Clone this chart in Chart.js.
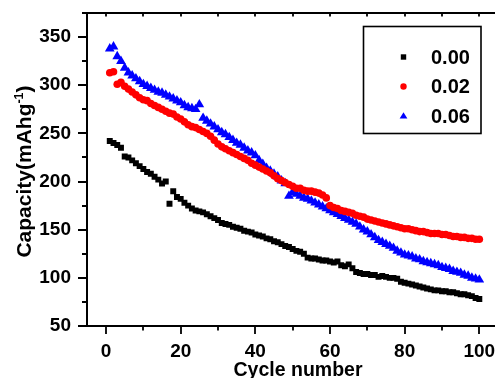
<!DOCTYPE html>
<html>
<head>
<meta charset="utf-8">
<script src="https://cdn.jsdelivr.net/npm/chart.js@4"></script>
<style>
  html, body { margin: 0; padding: 0; background: #fff; }
  canvas { display: block; }
</style>
</head>
<body>
<canvas id="capChart" width="495" height="378"></canvas>
<script>
// cycle numbers 1..100
const cycles = Array.from({ length: 100 }, (_, i) => i + 1);

const seriesLabels = ['0.00', '0.02', '0.06'];

const cap000 = [
    242, 240, 238, 235, 226, 225, 222, 219, 216, 213,
    210, 208, 205, 202, 198, 200, 177, 190, 184, 182,
    178, 175, 172, 170, 169, 168, 166, 164, 162, 160,
    157, 156, 155, 153, 152, 151, 149, 148, 147, 145,
    144, 143, 141, 140, 138, 137, 135, 133, 132, 130,
    128, 127, 125, 121, 120, 120, 119, 118, 118, 117,
    116, 117, 113, 112, 114, 110, 106, 105, 104, 104,
    103, 103, 101, 102, 101, 100, 100, 99, 96, 95,
    94, 93, 92, 91, 90, 89, 88, 87, 87, 86,
    86, 85, 85, 84, 83, 83, 82, 81, 79, 78
];

const cap002 = [
    313, 314, 301, 303, 299, 296, 293, 290, 287, 285,
    284, 281, 279, 277, 275, 273, 271, 270, 267, 265,
    262, 259, 257, 256, 254, 252, 250, 247, 243, 239,
    236, 234, 232, 230, 228, 226, 224, 222, 219, 217,
    215, 213, 211, 209, 206, 203, 201, 199, 197, 195,
    193, 193, 191, 190, 190, 189, 188, 186, 183, 175,
    173, 172, 170, 169, 168, 167, 165, 164, 163, 161,
    160, 159, 158, 157, 156, 155, 154, 153, 152, 151,
    151, 150, 149, 148, 148, 147, 146, 146, 146, 145,
    145, 144, 143, 143, 142, 142, 141, 141, 140, 140
];

const cap006 = [
    338, 340, 330, 325, 318, 313, 310, 307, 304, 301,
    299, 297, 295, 293, 292, 290, 288, 286, 284, 282,
    279, 277, 276, 275, 280, 266, 263, 260, 257, 254,
    251, 249, 246, 243, 240, 238, 235, 232, 230, 227,
    222, 218, 214, 211, 208, 205, 201, 198, 185, 189,
    187, 185, 183, 182, 180, 178, 176, 174, 172, 170,
    168, 166, 164, 162, 160, 158, 156, 153, 150, 148,
    145, 142, 139, 137, 135, 133, 131, 128, 126, 124,
    123, 122, 120, 119, 117, 116, 115, 114, 113, 111,
    110, 109, 107, 106, 105, 103, 102, 100, 99, 98
];

const xTickValues = [0, 20, 40, 60, 80, 100];
const yTickValues = [50, 100, 150, 200, 250, 300, 350];

const colors = ['#000000', '#ff0000', '#0000ff'];
const pointStyles = ['rect', 'circle', 'triangle'];
const pointSizes = [4.2, 3.8, 5.6];

function toPoints(values) {
    return values.map((v, i) => ({ x: cycles[i], y: v }));
}

const FONT = '"Liberation Sans", Arial, sans-serif';

// axes frame, ticks, titles and legend box
const framePlugin = {
    id: 'frame',
    afterDatasetsDraw(chart) {
        const ctx = chart.ctx;
        const xs = chart.scales.x;
        const ys = chart.scales.y;
        const area = chart.chartArea;
        const left = area.left, right = 495, top = area.top, bottom = area.bottom;

        ctx.save();
        ctx.strokeStyle = '#000';
        ctx.lineWidth = 2;
        ctx.beginPath();
        ctx.moveTo(left, top); ctx.lineTo(right, top);
        ctx.moveTo(left, top - 1); ctx.lineTo(left, bottom + 1);
        ctx.moveTo(left, bottom); ctx.lineTo(right, bottom);
        ctx.stroke();

        ctx.lineWidth = 1.8;
        ctx.beginPath();
        for (let v = 0; v <= 100; v += 10) {
            const px = Math.round(xs.getPixelForValue(v));
            const len = v % 20 === 0 ? 8 : 4.5;
            ctx.moveTo(px, bottom); ctx.lineTo(px, bottom + len);
            ctx.moveTo(px, top); ctx.lineTo(px, top + 3.5);
        }
        for (let v = 50; v <= 375; v += 25) {
            const py = Math.round(ys.getPixelForValue(v));
            const len = v % 50 === 0 ? 9 : 5;
            ctx.moveTo(left, py); ctx.lineTo(left - len, py);
        }
        ctx.stroke();

        // x title
        ctx.fillStyle = '#000';
        ctx.font = 'bold 19.5px ' + FONT;
        ctx.textAlign = 'center';
        ctx.textBaseline = 'alphabetic';
        ctx.fillText('Cycle number', 298, 376);

        // y title with superscript
        ctx.translate(31, 171.5);
        ctx.rotate(-Math.PI / 2);
        const mainFont = 'bold 21px ' + FONT;
        const supFont = 'bold 12.5px ' + FONT;
        ctx.font = mainFont;
        const w1 = ctx.measureText('Capacity(mAhg').width;
        const w3 = ctx.measureText(')').width;
        ctx.font = supFont;
        const w2 = ctx.measureText('-1').width;
        let sx = -(w1 + w2 + w3) / 2;
        ctx.textAlign = 'left';
        ctx.font = mainFont;
        ctx.fillText('Capacity(mAhg', sx, 0);
        sx += w1;
        ctx.font = supFont;
        ctx.fillText('-1', sx, -8.5);
        sx += w2;
        ctx.font = mainFont;
        ctx.fillText(')', sx, 0);
        ctx.restore();

        // legend
        ctx.save();
        ctx.strokeStyle = '#000';
        ctx.lineWidth = 1.6;
        ctx.strokeRect(363.5, 26.5, 117.5, 107);
        const rows = [57, 86.5, 116];
        ctx.font = 'bold 20px ' + FONT;
        ctx.textAlign = 'left';
        ctx.textBaseline = 'middle';
        chart.data.datasets.forEach((ds, i) => {
            ctx.fillStyle = ds.backgroundColor;
            const mx = 403.5, my = rows[i];
            ctx.beginPath();
            if (i === 0) {
                ctx.rect(mx - 2.7, my - 2.7, 5.4, 5.4);
            } else if (i === 1) {
                ctx.arc(mx, my, 3.2, 0, Math.PI * 2);
            } else {
                ctx.moveTo(mx, my - 3.8);
                ctx.lineTo(mx + 3.9, my + 2.6);
                ctx.lineTo(mx - 3.9, my + 2.6);
                ctx.closePath();
            }
            ctx.fill();
            ctx.fillStyle = '#000';
            ctx.fillText(ds.label, 431, my + 1);
        });
        ctx.restore();
    }
};

const ctx = document.getElementById('capChart').getContext('2d');
const chart = new Chart(ctx, {
    type: 'scatter',
    data: {
        datasets: [cap000, cap002, cap006].map((vals, i) => ({
            label: seriesLabels[i],
            data: toPoints(vals),
            backgroundColor: colors[i],
            borderColor: colors[i],
            pointStyle: pointStyles[i],
            pointRadius: pointSizes[i],
            pointBorderWidth: 0,
            showLine: false
        }))
    },
    options: {
        responsive: false,
        animation: false,
        layout: { padding: { top: 13, right: 0, left: 0, bottom: 0 } },
        plugins: {
            legend: { display: false },
            tooltip: { enabled: false }
        },
        scales: {
            x: {
                type: 'linear',
                // the plot frame runs past the right edge of the picture
                min: -5.1,
                max: 102.7,
                grid: { display: false, drawTicks: false },
                border: { display: false },
                ticks: {
                    color: '#000',
                    padding: 14,
                    maxRotation: 0,
                    font: { family: FONT, size: 19, weight: 'bold' }
                },
                afterBuildTicks: scale => {
                    scale.ticks = xTickValues.map(v => ({ value: v }));
                },
                afterFit: scale => {
                    scale.height = 52;
                    scale.paddingLeft = 0;
                    scale.paddingRight = 0;
                }
            },
            y: {
                min: 50,
                max: 375,
                grid: { display: false, drawTicks: false },
                border: { display: false },
                ticks: {
                    color: '#000',
                    padding: 16,
                    font: { family: FONT, size: 19, weight: 'bold' }
                },
                afterBuildTicks: scale => {
                    scale.ticks = yTickValues.map(v => ({ value: v }));
                },
                afterFit: scale => {
                    scale.width = 87;
                    scale.paddingTop = 0;
                    scale.paddingBottom = 0;
                }
            }
        }
    },
    plugins: [framePlugin]
});
</script>
</body>
</html>
